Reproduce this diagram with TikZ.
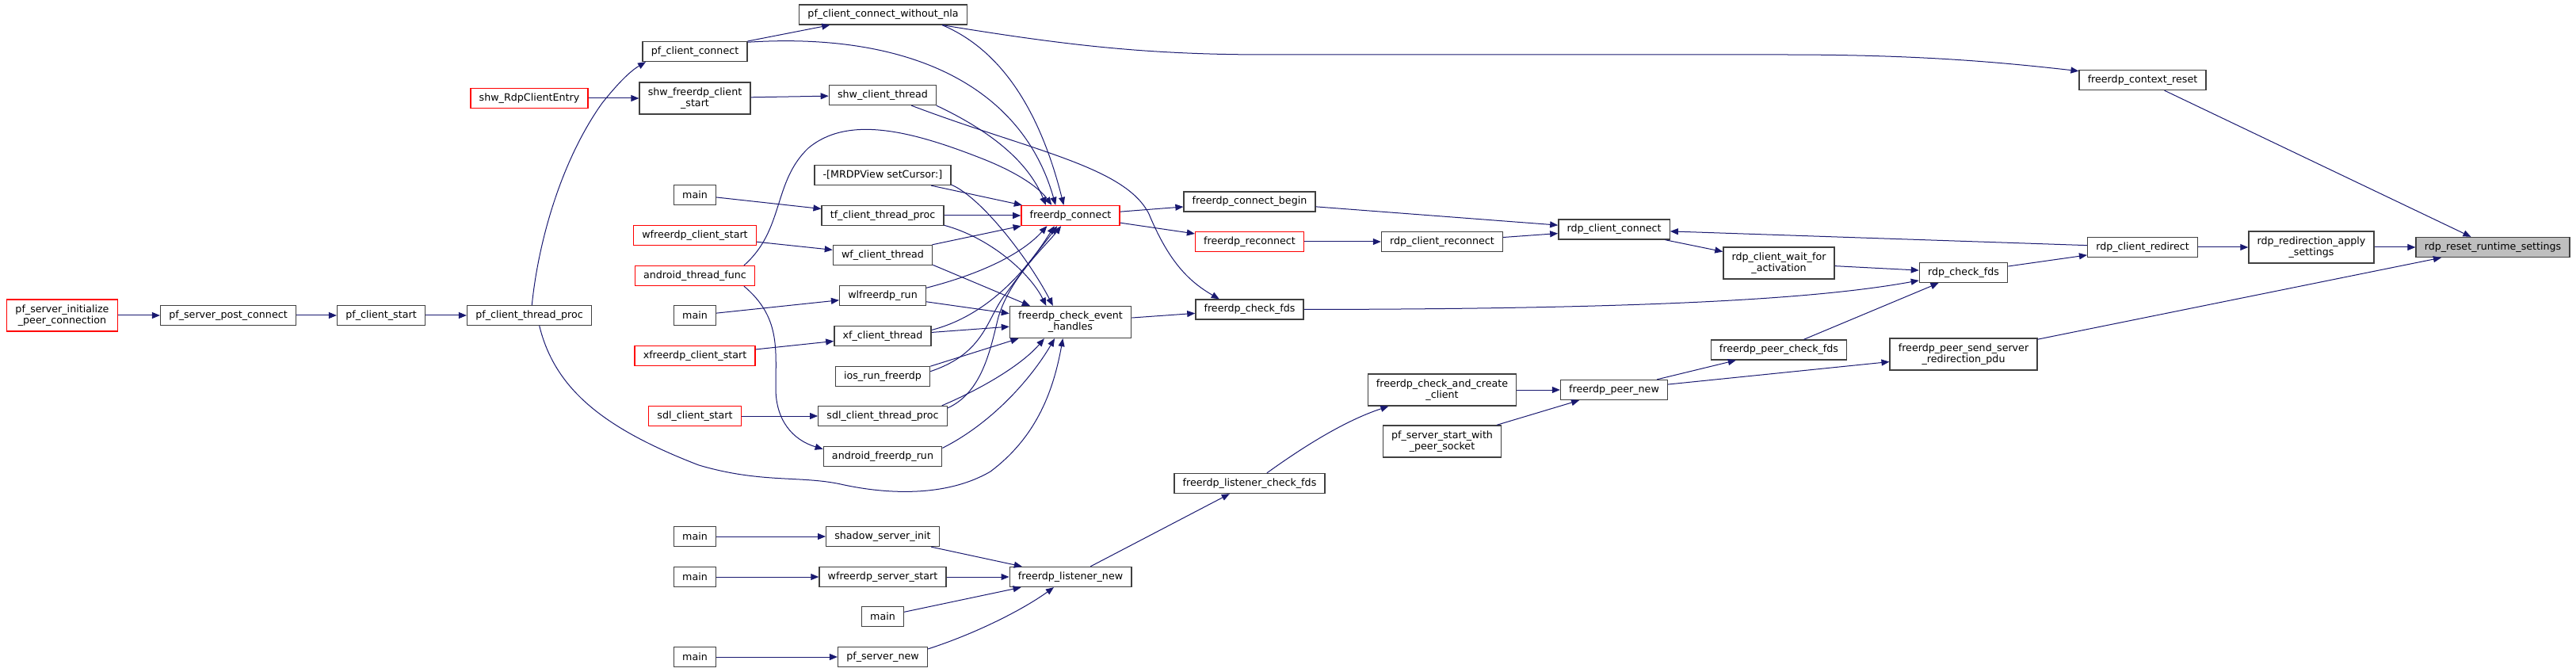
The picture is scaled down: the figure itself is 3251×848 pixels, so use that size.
\documentclass[tikz,border=0pt]{standalone}
\usepackage{fontspec}
\usetikzlibrary{arrows.meta}
\newfontfamily\fnfont{DejaVu Sans}
\definecolor{edgeblue}{HTML}{191970}
\definecolor{boxgray}{HTML}{404040}
\definecolor{mainfill}{HTML}{BFBFBF}
\tikzset{
	fn/.style={draw=boxgray, line width=1pt, fill=white, inner xsep=8pt, inner ysep=2pt, minimum height=18.75pt, align=center, font=\fnfont\fontsize{9.5}{10.5}\selectfont},
	fnred/.style={fn, draw=red},
	fnmain/.style={fn, fill=mainfill},
	tall/.style={minimum height=30pt},
	call/.style={draw=edgeblue, line width=0.75pt, -{Triangle[length=7.5pt,width=6pt]}}
}

\begin{document}
\begin{tikzpicture}[x=0.75pt, y=-0.75pt]
			%%%%% START %%%%%
			\useasboundingbox (0,0) rectangle (3251,848);
			
			\node[fnred, tall] (pfinit) at (78.5,398) {pf\_server\_initialize\\\_peer\_connection};
			\node[fn] (pfpost) at (288,398) {pf\_server\_post\_connect};
			\node[fn] (pfstart) at (481,398) {pf\_client\_start};
			\node[fnred] (shwentry) at (668,124) {shw\_RdpClientEntry};
			\node[fn] (pfthread) at (668,398) {pf\_client\_thread\_proc};
			
			\node[fn] (pfconn) at (877,65) {pf\_client\_connect};
			\node[fn, tall] (shwstart) at (877,124) {shw\_freerdp\_client\\\_start};
			\node[fn] (main1) at (877,246) {main};
			\node[fnred] (wfstart) at (877,297) {wfreerdp\_client\_start};
			\node[fnred] (androidfunc) at (877,348) {android\_thread\_func};
			\node[fn] (main2) at (877,398) {main};
			\node[fnred] (xfstart) at (877,449) {xfreerdp\_client\_start};
			\node[fnred] (sdlstart) at (877,525) {sdl\_client\_start};
			\node[fn] (main3) at (877,677) {main};
			\node[fn] (main4) at (877,728) {main};
			\node[fn] (main6) at (877,829) {main};
			
			\node[fn] (nla) at (1114.5,18.5) {pf\_client\_connect\_without\_nla};
			\node[fn] (shwthread) at (1114,120) {shw\_client\_thread};
			\node[fn] (mrdp) at (1114,221) {-[MRDPView setCursor:]};
			\node[fn] (tfthread) at (1114,272) {tf\_client\_thread\_proc};
			\node[fn] (wfthread) at (1114,322) {wf\_client\_thread};
			\node[fn] (wlrun) at (1114,373) {wlfreerdp\_run};
			\node[fn] (xfthread) at (1114,424) {xf\_client\_thread};
			\node[fn] (iosrun) at (1114,475) {ios\_run\_freerdp};
			\node[fn] (sdlthread) at (1114,525) {sdl\_client\_thread\_proc};
			\node[fn] (androidrun) at (1114,576) {android\_freerdp\_run};
			\node[fn] (shadowinit) at (1114,677) {shadow\_server\_init};
			\node[fn] (wfserver) at (1114,728) {wfreerdp\_server\_start};
			\node[fn] (main5) at (1114,778) {main};
			\node[fn] (pfservernew) at (1114,829) {pf\_server\_new};
			
			\node[fnred] (connect) at (1351,272) {freerdp\_connect};
			\node[fn, tall] (checkevent) at (1351,406.5) {freerdp\_check\_event\\\_handles};
			\node[fn] (listenernew) at (1351,728) {freerdp\_listener\_new};
			
			\node[fn] (connbegin) at (1577,254.5) {freerdp\_connect\_begin};
			\node[fnred] (reconnect) at (1577,305) {freerdp\_reconnect};
			\node[fn] (checkfds) at (1577,390.5) {freerdp\_check\_fds};
			\node[fn] (listenerfds) at (1577,610) {freerdp\_listener\_check\_fds};
			
			\node[fn] (clientreconnect) at (1820,305) {rdp\_client\_reconnect};
			\node[fn, tall] (createclient) at (1820,492) {freerdp\_check\_and\_create\\\_client};
			\node[fn, tall] (pfsocket) at (1820,557) {pf\_server\_start\_with\\\_peer\_socket};
			
			\node[fn] (clientconnect) at (2037,289.5) {rdp\_client\_connect};
			\node[fn] (peernew) at (2037,492) {freerdp\_peer\_new};
			\node[fn, tall] (waitact) at (2245,332) {rdp\_client\_wait\_for\\\_activation};
			\node[fn] (peerfds) at (2245,441.5) {freerdp\_peer\_check\_fds};
			
			\node[fn] (rdpfds) at (2478,344) {rdp\_check\_fds};
			\node[fn, tall] (redirpdu) at (2478,447) {freerdp\_peer\_send\_server\\\_redirection\_pdu};
			\node[fn] (ctxreset) at (2704,101) {freerdp\_context\_reset};
			\node[fn] (redirect) at (2704,312) {rdp\_client\_redirect};
			\node[fn, tall] (applyset) at (2917,312) {rdp\_redirection\_apply\\\_settings};
			\node[fnmain] (reset) at (3146,312) {rdp\_reset\_runtime\_settings};
			
			
			\draw[call] (ctxreset) -- (reset);
			\draw[call] (applyset) -- (reset);
			\draw[call] (redirpdu) -- (reset);
			\draw[call] (redirect) -- (applyset);
			\draw[call] (rdpfds) -- (redirect);
			\draw[call] (redirect) -- (clientconnect);
			\draw[call] (nla.-10) .. controls (1350,58) and (1450,69) .. (1600,69) -- (2250,69) .. controls (2420,69) and (2520,78) .. (ctxreset.172);
			
			\draw[call] (clientconnect) -- (waitact);
			\draw[call] (waitact) -- (rdpfds);
			\draw[call] (checkfds.east) .. controls (2100,390) and (2300,376) .. (rdpfds.190);
			\draw[call] (peerfds) -- (rdpfds);
			\draw[call] (peernew) -- (peerfds);
			\draw[call] (peernew) -- (redirpdu);
			\draw[call] (createclient) -- (peernew);
			\draw[call] (pfsocket) -- (peernew);
			\draw[call] (listenerfds.31) .. controls (1650,560) and (1700,530) .. (createclient.197);
			
			\draw[call] (listenernew) -- (listenerfds);
			\draw[call] (shadowinit) -- (listenernew);
			\draw[call] (wfserver) -- (listenernew);
			\draw[call] (main5) -- (listenernew);
			\draw[call] (pfservernew.10) .. controls (1230,800) and (1290,770) .. (listenernew.212);
			\draw[call] (main3) -- (shadowinit);
			\draw[call] (main4) -- (wfserver);
			\draw[call] (main6) -- (pfservernew);
			
			\draw[call] (connect) -- (connbegin);
			\draw[call] (connect) -- (reconnect);
			\draw[call] (connbegin) -- (clientconnect);
			\draw[call] (reconnect) -- (clientreconnect);
			\draw[call] (clientreconnect) -- (clientconnect);
			\draw[call] (checkevent) -- (checkfds);
			\draw[call] (shwthread.-20) .. controls (1300,190) and (1420,210) .. (1450,270) .. controls (1475,330) and (1500,355) .. (checkfds.161);
			
			\draw[call] (pfconn.10) .. controls (1150,40) and (1290,110) .. (connect.145);
			\draw[call] (pfconn) -- (nla);
			\draw[call] (nla.-10) .. controls (1280,70) and (1320,170) .. (connect.123);
			\draw[call] (shwthread.-11) .. controls (1260,170) and (1300,210) .. (connect.157);
			\draw[call] (androidfunc.12) .. controls (990,290) and (975,230) .. (1020,187) .. controls (1070,145) and (1150,165) .. (1239,200) .. controls (1280,216) and (1310,235) .. (connect.151);
			\draw[call] (mrdp) -- (connect);
			\draw[call] (tfthread) -- (connect);
			\draw[call] (wfthread) -- (connect);
			\draw[call] (wlrun.10) .. controls (1240,345) and (1290,320) .. (connect.204);
			\draw[call] (xfthread.7) .. controls (1240,400) and (1290,350) .. (connect.213);
			\draw[call] (iosrun.6) .. controls (1245,445) and (1245,400) .. (1270,370) .. controls (1295,335) and (1320,305) .. (connect.218);
			\draw[call] (sdlthread.7) .. controls (1240,495) and (1250,440) .. (1260,400) .. controls (1275,350) and (1320,310) .. (connect.228);
			
			\draw[call] (mrdp.-8) .. controls (1240,250) and (1300,330) .. (checkevent.137);
			\draw[call] (tfthread.-9) .. controls (1250,300) and (1300,345) .. (checkevent.146);
			\draw[call] (wfthread.-11) -- (checkevent.158);
			\draw[call] (wlrun) -- (checkevent);
			\draw[call] (xfthread) -- (checkevent);
			\draw[call] (iosrun.12) -- (checkevent);
			\draw[call] (sdlthread.10) .. controls (1240,490) and (1290,460) .. (checkevent.212);
			\draw[call] (androidrun.8) .. controls (1250,535) and (1300,480) .. (checkevent.226);
			\draw[call] (pfthread.-46) .. controls (700,490) and (760,540) .. (882,587) .. controls (960,610) and (1010,600) .. (1061,611) .. controls (1110,622) and (1190,630) .. (1250,595) .. controls (1310,550) and (1330,490) .. (checkevent.245);
			
			\draw[call] (pfthread.76) .. controls (680,300) and (710,200) .. (760,130) .. controls (780,105) and (795,90) .. (pfconn.192);
			\draw[call] (androidfunc.-12) .. controls (985,400) and (979,440) .. (979,490) .. controls (979,530) and (1000,555) .. (androidrun.173);
			\draw[call] (main1) -- (tfthread);
			\draw[call] (main2) -- (wlrun);
			\draw[call] (wfstart) -- (wfthread);
			\draw[call] (xfstart) -- (xfthread);
			\draw[call] (sdlstart) -- (sdlthread);
			\draw[call] (shwentry) -- (shwstart);
			\draw[call] (shwstart) -- (shwthread);
			\draw[call] (pfinit) -- (pfpost);
			\draw[call] (pfpost) -- (pfstart);
			\draw[call] (pfstart) -- (pfthread);
			
			%%%%% END %%%%%
\end{tikzpicture}
\end{document}
